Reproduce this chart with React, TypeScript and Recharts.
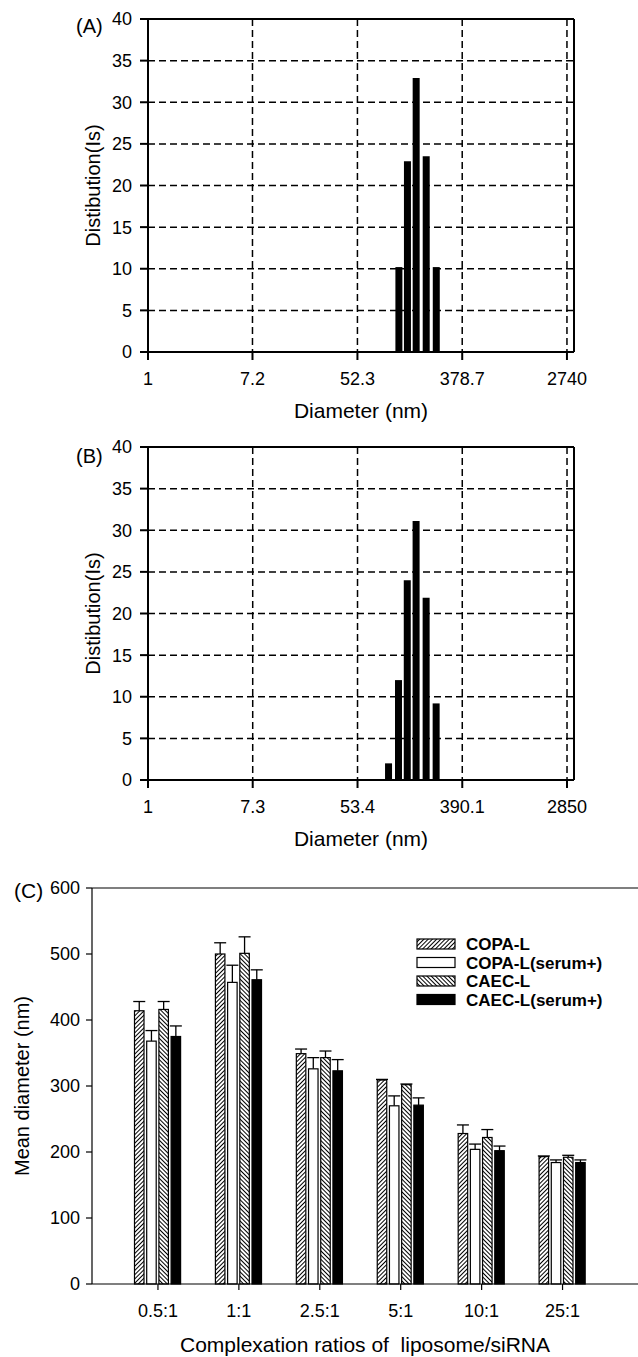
import React from 'react';
import { BarChart, Bar, XAxis, YAxis, CartesianGrid, ReferenceLine, Label } from 'recharts';

const FONT = '"Liberation Sans", Arial, Helvetica, sans-serif';

// (A) size distribution
const diamA = [114, 134, 158, 191, 231];
const distA = [10.2, 22.9, 32.9, 23.5, 10.2];
const ticksA = [1, 7.2, 52.3, 378.7, 2740];
const maxA = 3130;

// (B) size distribution
const diamB = [96, 116, 137, 162, 196, 237];
const distB = [2, 12, 24, 31.1, 21.9, 9.2];
const ticksB = [1, 7.3, 53.4, 390.1, 2850];
const maxB = 3254;

const distTicks = [0, 5, 10, 15, 20, 25, 30, 35, 40];

// (C) mean diameter vs ratio
const ratios = ['0.5:1', '1:1', '2.5:1', '5:1', '10:1', '25:1'];
const copa = [414, 500, 349, 309, 228, 193];
const copaErr = [14, 17, 7, 1, 13, 1];
const copaSerum = [368, 457, 326, 270, 204, 184];
const copaSerumErr = [16, 26, 17, 15, 8, 4];
const caec = [416, 501, 343, 302, 222, 192];
const caecErr = [12, 25, 10, 1, 12, 3];
const caecSerum = [375, 461, 323, 271, 202, 184];
const caecSerumErr = [16, 15, 17, 11, 7, 4];
const diamTicks = [0, 100, 200, 300, 400, 500, 600];

const legendItems = [
  { name: 'COPA-L', fill: 'url(#hatchF)' },
  { name: 'COPA-L(serum+)', fill: '#fff' },
  { name: 'CAEC-L', fill: 'url(#hatchB)' },
  { name: 'CAEC-L(serum+)', fill: '#000' },
];

const tickStyle = { fontSize: 18, fill: '#000', fontFamily: FONT };

function DistChart({ diam, dist, ticks, xMax }) {
  const data = diam.map((d, i) => ({ d, v: dist[i] }));
  const line = { stroke: '#000', strokeWidth: 2 };
  return (
    <BarChart width={638} height={428} data={data} margin={{ top: 19, right: 64, bottom: 0, left: 0 }}>
      <CartesianGrid stroke="#000" strokeWidth={1.5} strokeDasharray="7 4" />
      <XAxis
        dataKey="d"
        type="number"
        scale="log"
        domain={[1, xMax]}
        ticks={ticks}
        interval={0}
        allowDataOverflow
        height={76}
        tickSize={8}
        tickMargin={12}
        axisLine={line}
        tickLine={line}
        tick={tickStyle}
      >
        <Label value="Diameter (nm)" position="insideBottom" offset={10}
          style={{ fontSize: 21, fill: '#000', fontFamily: FONT }} />
      </XAxis>
      <YAxis
        type="number"
        domain={[0, 40]}
        ticks={distTicks}
        interval={0}
        width={148}
        tickSize={8}
        tickMargin={8}
        axisLine={line}
        tickLine={line}
        tick={tickStyle}
      >
        <Label value="Distibution(Is)" angle={-90} position="insideLeft" offset={93}
          style={{ fontSize: 20, fill: '#000', fontFamily: FONT, textAnchor: 'middle' }} />
      </YAxis>
      <ReferenceLine y={40} stroke="#000" strokeWidth={2} />
      <ReferenceLine x={xMax} stroke="#000" strokeWidth={2} />
      <Bar dataKey="v" fill="#000" barSize={7} isAnimationActive={false} />
    </BarChart>
  );
}

const errShape = (valKey, errKey, fill) => (props) => {
  const { x, y, width, height, payload } = props;
  const v = payload[valKey];
  const ey = y - (height / v) * payload[errKey];
  const cx = x + width / 2;
  return (
    <g>
      <line x1={cx} y1={y} x2={cx} y2={ey} stroke="#000" strokeWidth={1.3} />
      <line x1={cx - 6} y1={ey} x2={cx + 6} y2={ey} stroke="#000" strokeWidth={1.3} />
      <rect x={x} y={y} width={width} height={height} fill={fill} stroke="#000" strokeWidth={1.2} />
    </g>
  );
};

function SizeChart() {
  const data = ratios.map((r, i) => ({
    r,
    copa: copa[i], copaErr: copaErr[i],
    copaSerum: copaSerum[i], copaSerumErr: copaSerumErr[i],
    caec: caec[i], caecErr: caecErr[i],
    caecSerum: caecSerum[i], caecSerumErr: caecSerumErr[i],
  }));
  const line = { stroke: '#000', strokeWidth: 1.2 };
  return (
    <BarChart width={638} height={497} data={data} margin={{ top: 28, right: 0, bottom: 0, left: 0 }}
      barSize={9.5} barGap={2.7}>
      <defs>
        <pattern id="hatchF" width="3" height="3" patternUnits="userSpaceOnUse" patternTransform="rotate(45)">
          <rect width="3" height="3" fill="#fff" />
          <line x1="1.5" y1="0" x2="1.5" y2="3" stroke="#000" strokeWidth="1" />
        </pattern>
        <pattern id="hatchB" width="3" height="3" patternUnits="userSpaceOnUse" patternTransform="rotate(-45)">
          <rect width="3" height="3" fill="#fff" />
          <line x1="1.5" y1="0" x2="1.5" y2="3" stroke="#000" strokeWidth="1" />
        </pattern>
      </defs>
      <XAxis
        dataKey="r"
        height={73}
        padding={{ left: 25.5, right: 35 }}
        interval={0}
        tickSize={6}
        tickMargin={14}
        axisLine={line}
        tickLine={line}
        tick={tickStyle}
      >
        <Label value={'Complexation ratios of\u00A0 liposome/siRNA'} position="insideBottom" offset={5}
          style={{ fontSize: 21, fill: '#000', fontFamily: FONT }} />
      </XAxis>
      <YAxis
        type="number"
        domain={[0, 600]}
        ticks={diamTicks}
        interval={0}
        width={92}
        tickSize={6}
        tickMargin={6}
        axisLine={line}
        tickLine={line}
        tick={tickStyle}
      >
        <Label value="Mean diameter (nm)" angle={-90} position="insideLeft" offset={22}
          style={{ fontSize: 20, fill: '#000', fontFamily: FONT, textAnchor: 'middle' }} />
      </YAxis>
      <ReferenceLine y={600} stroke="#000" strokeWidth={1.2} />
      <Bar dataKey="copa" name="COPA-L" fill="url(#hatchF)" isAnimationActive={false}
        shape={errShape('copa', 'copaErr', 'url(#hatchF)')} />
      <Bar dataKey="copaSerum" name="COPA-L(serum+)" fill="#fff" isAnimationActive={false}
        shape={errShape('copaSerum', 'copaSerumErr', '#fff')} />
      <Bar dataKey="caec" name="CAEC-L" fill="url(#hatchB)" isAnimationActive={false}
        shape={errShape('caec', 'caecErr', 'url(#hatchB)')} />
      <Bar dataKey="caecSerum" name="CAEC-L(serum+)" fill="#000" isAnimationActive={false}
        shape={errShape('caecSerum', 'caecSerumErr', '#000')} />
    </BarChart>
  );
}

export default function App() {
  return (
    <div style={{ position: 'absolute', left: 0, top: 0, width: 638, height: 1357, background: '#fff', fontFamily: FONT }}>
      <div style={{ position: 'absolute', left: 0, top: 0 }}>
        <DistChart diam={diamA} dist={distA} ticks={ticksA} xMax={maxA} />
      </div>
      <div style={{ position: 'absolute', left: 0, top: 428 }}>
        <DistChart diam={diamB} dist={distB} ticks={ticksB} xMax={maxB} />
      </div>
      <div style={{ position: 'absolute', left: 0, top: 860 }}>
        <SizeChart />
      </div>
      <svg width={638} height={1357} style={{ position: 'absolute', left: 0, top: 0, pointerEvents: 'none' }}>
        <g fontFamily={FONT} fill="#000">
          <text x={76} y={33} fontSize={20}>(A)</text>
          <text x={76} y={463} fontSize={20}>(B)</text>
          <text x={14} y={898} fontSize={21}>(C)</text>
        </g>
        {legendItems.map((it, i) => (
          <g key={it.name} transform={`translate(417, ${944 + i * 18.5})`}>
            <rect x={0} y={-5} width={38} height={10} fill={it.fill} stroke="#000" strokeWidth={1.2} />
            <text x={49} y={6} fontSize={17} fontWeight="bold" fontFamily={FONT} fill="#000">{it.name}</text>
          </g>
        ))}
      </svg>
    </div>
  );
}
